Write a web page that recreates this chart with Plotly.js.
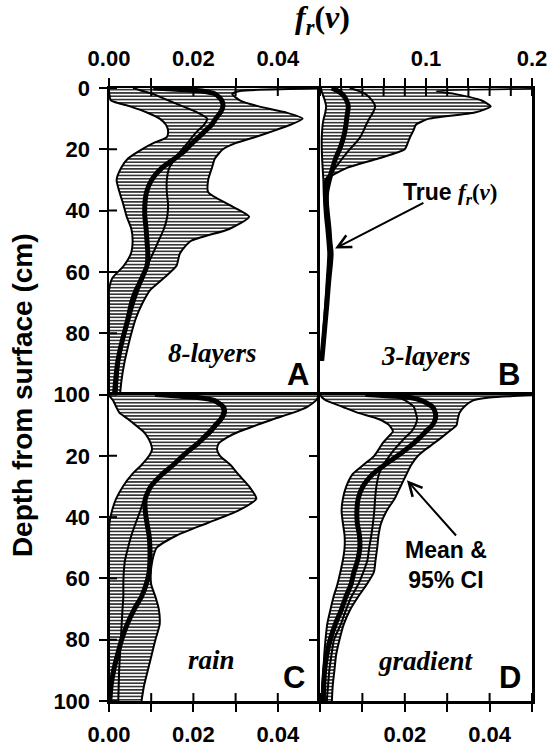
<!DOCTYPE html>
<html><head><meta charset="utf-8">
<script src="https://cdn.plot.ly/plotly-3.0.1.min.js"></script>
<style>html,body{margin:0;padding:0;background:#fff}</style>
</head><body><div id="chart" style="width:549px;height:751px"></div>
<script>
// depth grids (cm)
const depth  = [0,1,2,4,6,8,10,12,14,16,18,20,23,26,30,34,38,42,46,50,54,58,62,66,70,75,80,85,90,95,100];
const depthB = [0,1,2,4,6,8,10,12,14,16,18,20,23,26,30,34,38,42,46,50,54,58,62,66,70,75,80,85,89];

// Panel A: 8-layers
const A_lower = [0,0,0.0001,0.0004,0.005,0.009,0.012,0.0135,0.014,0.0137,0.0105,0.0078,0.0045,0.0029,0.0018,0.0025,0.0034,0.0042,0.0053,0.0056,0.0052,0.0035,0.0008,0,0,0,0,0,0,0,0];
const A_upper = [0.060,0.031,0.0292,0.031,0.0355,0.042,0.0459,0.043,0.039,0.0347,0.030,0.027,0.0251,0.0244,0.0235,0.0235,0.0283,0.0332,0.0285,0.0193,0.0168,0.016,0.013,0.0097,0.008,0.0064,0.0053,0.0044,0.0036,0.003,0.0026];
const A_mean  = [0.0057,0.008,0.0105,0.014,0.0175,0.021,0.0233,0.0225,0.021,0.0197,0.0186,0.0173,0.0157,0.0143,0.0137,0.0137,0.014,0.0138,0.013,0.0117,0.0104,0.009,0.0075,0.006,0.005,0.0042,0.0034,0.0028,0.0023,0.002,0.0018];
const A_true  = [0.0105,0.022,0.0252,0.0267,0.027,0.0264,0.0253,0.0243,0.0228,0.0213,0.0197,0.0183,0.0156,0.0126,0.0101,0.0089,0.0085,0.0085,0.0088,0.009,0.0092,0.009,0.0078,0.0066,0.0056,0.0046,0.0036,0.0027,0.002,0.0016,0.0013];

// Panel B: 3-layers
const B_lower = [0.001,0.0015,0.0025,0.0045,0.0058,0.005,0.0035,0.0025,0.002,0.0017,0.0016,0.0017,0.002,0.0025,0.0032,0.0035,0.004,0.0048,0.006,0.007,0.0078,0.0073,0.0065,0.0058,0.005,0.004,0.003,0.0019,0.001];
const B_upper = [0.3,0.11,0.128,0.152,0.161,0.146,0.103,0.0905,0.088,0.085,0.0827,0.08,0.055,0.026,0.006,0.0065,0.0065,0.0075,0.0088,0.0097,0.0108,0.01,0.0088,0.0078,0.0069,0.0056,0.0043,0.003,0.0018];
const B_mean  = [0.028,0.037,0.043,0.049,0.052,0.05,0.0465,0.0435,0.041,0.038,0.0335,0.028,0.021,0.0145,0.005,0.004,0.0045,0.0055,0.0068,0.008,0.009,0.0085,0.0075,0.0066,0.0058,0.0046,0.0034,0.0022,0.0012];
const B_true  = [0.011,0.017,0.021,0.025,0.0267,0.026,0.0252,0.0245,0.0235,0.0222,0.0205,0.0185,0.0147,0.012,0.0088,0.0063,0.0062,0.0073,0.0085,0.0093,0.0105,0.0097,0.0085,0.0075,0.0066,0.0053,0.004,0.0027,0.0016];

// Panel C: rain
const C_lower = [0,0.0004,0.001,0.0017,0.0025,0.0045,0.0063,0.0081,0.0092,0.0099,0.0102,0.0095,0.0077,0.0055,0.0033,0.0017,0.0007,0.0001,0,0,0,0,0,0,0,0,0,0,0,0,0];
const C_upper = [0.05,0.0495,0.049,0.047,0.0435,0.039,0.035,0.031,0.028,0.026,0.0256,0.0263,0.0288,0.0306,0.0332,0.0349,0.0305,0.0232,0.016,0.0113,0.0103,0.0099,0.01,0.011,0.0118,0.012,0.011,0.0101,0.0092,0.0083,0.0077];
const C_mean  = [0.013,0.0215,0.0255,0.0275,0.0277,0.027,0.0257,0.0245,0.023,0.0214,0.0196,0.0179,0.0155,0.0128,0.0099,0.0084,0.0074,0.0063,0.0053,0.0045,0.0038,0.0035,0.0034,0.0034,0.0032,0.003,0.0028,0.0026,0.0024,0.0023,0.0022];
const C_true  = [0.0109,0.021,0.025,0.027,0.0272,0.0265,0.0252,0.024,0.0225,0.021,0.0192,0.0175,0.0152,0.0126,0.0099,0.0086,0.0086,0.009,0.0095,0.0097,0.0097,0.0095,0.0088,0.0077,0.006,0.0043,0.003,0.002,0.0011,0.0005,0.0002];

// Panel D: gradient
const D_lower = [0,0.0005,0.0015,0.0053,0.009,0.0138,0.0163,0.0172,0.016,0.0147,0.0138,0.0128,0.0102,0.0077,0.0062,0.0054,0.0051,0.0054,0.0058,0.0058,0.0054,0.0048,0.0041,0.0032,0.0025,0.0017,0.0013,0.001,0.0008,0.0005,0.0004];
const D_upper = [0.055,0.04,0.036,0.034,0.0329,0.0325,0.0322,0.0305,0.0287,0.0268,0.0248,0.0231,0.0215,0.0204,0.019,0.0176,0.0157,0.0144,0.0138,0.0135,0.0131,0.0127,0.011,0.009,0.0072,0.0056,0.0046,0.0038,0.0034,0.003,0.0028];
const D_mean  = [0.0174,0.0188,0.0202,0.0221,0.0226,0.0229,0.0225,0.0216,0.0201,0.0188,0.0175,0.0164,0.0149,0.0139,0.0133,0.013,0.0128,0.0125,0.0121,0.0116,0.0112,0.0102,0.009,0.0074,0.0062,0.0049,0.0033,0.0027,0.0022,0.0019,0.0016];
const D_true  = [0.0107,0.0213,0.024,0.0265,0.0272,0.0272,0.0265,0.025,0.0236,0.022,0.0202,0.0183,0.0152,0.0124,0.0101,0.009,0.0087,0.0088,0.0093,0.0094,0.0089,0.008,0.0073,0.0061,0.0051,0.0036,0.0024,0.0016,0.0011,0.0009,0.0008];

// tick values / labels
const smallTicks = [0,0.01,0.02,0.03,0.04,0.05];
const smallLabels = ['0.00','','0.02','','0.04',''];
const smallLabelsD = ['','','0.02','','0.04',''];
const bigTicks = [0,0.02,0.04,0.06,0.08,0.1,0.12,0.14,0.16,0.18,0.2];
const bigLabels = ['','','','','','0.1','','','','','0.2'];
const depthTicks = [0,20,40,60,80,100];
const depthLabelsTop = ['0','20','40','60','80','100'];
const depthLabelsBot = ['','20','40','60','80','100'];

const SHAPE = 'spline', SMOOTH = 0.6;
function panel(xa, ya, dep, lo, up, mn, tr) {
  const bx = lo.concat(up.slice().reverse());
  const by = dep.concat(dep.slice().reverse());
  const base = {xaxis: xa, yaxis: ya, mode: 'lines', hoverinfo: 'skip', showlegend: false};
  return [
    Object.assign({}, base, {x: bx, y: by, fill: 'toself', fillcolor: 'rgba(0,0,0,0)',
      fillpattern: {shape: '-', fgcolor: '#1e1e1e', bgcolor: '#ffffff', size: 3.3, solidity: 0.45},
      line: {width: 0, shape: SHAPE, smoothing: SMOOTH}}),
    Object.assign({}, base, {x: lo, y: dep, line: {color: '#000', width: 2, shape: SHAPE, smoothing: SMOOTH}}),
    Object.assign({}, base, {x: up, y: dep, line: {color: '#000', width: 2, shape: SHAPE, smoothing: SMOOTH}}),
    Object.assign({}, base, {x: mn, y: dep, line: {color: '#000', width: 2, shape: SHAPE, smoothing: SMOOTH}}),
    Object.assign({}, base, {x: tr, y: dep, line: {color: '#000', width: 5, shape: SHAPE, smoothing: SMOOTH}})
  ];
}

const traces = [].concat(
  panel('x', 'y', depth, A_lower, A_upper, A_mean, A_true),
  panel('x2', 'y2', depthB, B_lower, B_upper, B_mean, B_true),
  panel('x3', 'y3', depth, C_lower, C_upper, C_mean, C_true),
  panel('x4', 'y4', depth, D_lower, D_upper, D_mean, D_true)
);

const dA = 0.4988;
const tickFont = {family: 'Liberation Sans, Arial, sans-serif', size: 22, color: '#000', weight: 'bold'};
const common = {showline: true, linecolor: '#000', linewidth: 2.5, showgrid: false, zeroline: false,
  tickmode: 'array', tickcolor: '#000', tickwidth: 2, ticklen: 8, tickfont: tickFont, fixedrange: true};
function ax(o) { return Object.assign({}, common, o); }

// inner halves of the crossing tick marks (the axes draw the outer halves)
const TLD = 2.6;      // tick length in depth units (~8 px)
const TLS = 0.0019;   // tick length in small-axis units (~8 px)
const shapes = [];
function xInner(xref, yref, vals, y0, y1) {
  vals.forEach(v => shapes.push({type: 'line', xref: xref, yref: yref, x0: v, x1: v, y0: y0, y1: y1,
    line: {color: '#000', width: 2}, layer: 'above'}));
}
function yInner(xref, yref, vals) {
  vals.forEach(v => shapes.push({type: 'line', xref: xref, yref: yref, y0: v, y1: v, x0: 0, x1: TLS,
    line: {color: '#000', width: 2}, layer: 'above'}));
}
xInner('x', 'y', smallTicks, 0, TLD);
xInner('x2', 'y2', bigTicks, 0, TLD);
xInner('x3', 'y3', smallTicks, 100, 100 - TLD);
xInner('x4', 'y4', smallTicks, 100, 100 - TLD);
yInner('x', 'y', depthTicks);
yInner('x3', 'y3', depthTicks);

const layout = {
  width: 549, height: 751,
  margin: {l: 109, r: 17, t: 88, b: 50, pad: 0},
  paper_bgcolor: '#fff', plot_bgcolor: 'rgba(0,0,0,0)',
  showlegend: false,
  xaxis:  ax({domain: [0, dA], anchor: 'y', side: 'top', range: [0, 0.05], tickvals: smallTicks, ticktext: smallLabels, ticks: 'outside', mirror: false, ticklabelstandoff: 3}),
  yaxis:  ax({domain: [0.5, 1], anchor: 'x', range: [100, 0], tickvals: depthTicks, ticktext: depthLabelsTop, ticks: 'outside', mirror: false, ticklabelstandoff: 4}),
  xaxis2: ax({domain: [dA, 1], anchor: 'y2', side: 'top', range: [0, 0.2], tickvals: bigTicks, ticktext: bigLabels, ticks: 'outside', mirror: false, ticklabelstandoff: 3}),
  yaxis2: ax({domain: [0.5, 1], anchor: 'x2', range: [100, 0], tickvals: [20,40,60,80], ticktext: ['','','',''], ticks: 'outside', mirror: true, showticklabels: false}),
  xaxis3: ax({domain: [0, dA], anchor: 'y3', side: 'bottom', range: [0, 0.05], tickvals: smallTicks, ticktext: smallLabels, ticks: 'outside', mirror: true, ticklabelstandoff: 4}),
  yaxis3: ax({domain: [0, 0.5], anchor: 'x3', range: [100, 0], tickvals: depthTicks, ticktext: depthLabelsBot, ticks: 'outside', mirror: false, ticklabelstandoff: 4}),
  xaxis4: ax({domain: [dA, 1], anchor: 'y4', side: 'bottom', range: [0, 0.05], tickvals: smallTicks, ticktext: smallLabelsD, ticks: 'outside', mirror: true, ticklabelstandoff: 4}),
  yaxis4: ax({domain: [0, 0.5], anchor: 'x4', range: [100, 0], tickvals: [20,40,60,80], ticktext: ['','','',''], ticks: 'outside', mirror: true, showticklabels: false}),
  shapes: shapes,
  annotations: []
};

const serif = 'Liberation Serif, Times New Roman, serif';
const sans = 'Liberation Sans, Arial, sans-serif';
const frv = '<b><i>f</i></b><sub><b><i>r</i></b></sub><b>(<i>v</i>)</b>';
const A = layout.annotations;
A.push({xref: 'paper', yref: 'paper', x: 0.5047, y: 1.112, xanchor: 'center', yanchor: 'middle', showarrow: false,
        text: frv, font: {family: serif, size: 32, color: '#000'}});
A.push({xref: 'paper', yref: 'paper', x: -0.2057, y: 0.499, xanchor: 'center', yanchor: 'middle', showarrow: false, textangle: -90,
        text: '<b>Depth from surface (cm)</b>', font: {family: sans, size: 28, color: '#000'}});
// panel names
A.push({xref: 'x', yref: 'y', x: 0.0243, y: 86.6, showarrow: false, text: '<b><i>8-layers</i></b>', font: {family: serif, size: 27, color: '#000'}});
A.push({xref: 'x2', yref: 'y2', x: 0.0996, y: 87.3, showarrow: false, text: '<b><i>3-layers</i></b>', font: {family: serif, size: 27, color: '#000'}});
A.push({xref: 'x3', yref: 'y3', x: 0.0243, y: 86.6, showarrow: false, text: '<b><i>rain</i></b>', font: {family: serif, size: 27, color: '#000'}});
A.push({xref: 'x4', yref: 'y4', x: 0.0249, y: 87, showarrow: false, text: '<b><i>gradient</i></b>', font: {family: serif, size: 27, color: '#000'}});
// panel letters
A.push({xref: 'x', yref: 'y', x: 0.0478, y: 93.5, xanchor: 'right', showarrow: false, text: '<b>A</b>', font: {family: sans, size: 31, color: '#000'}});
A.push({xref: 'x2', yref: 'y2', x: 0.1906, y: 93.5, xanchor: 'right', showarrow: false, text: '<b>B</b>', font: {family: sans, size: 31, color: '#000'}});
A.push({xref: 'x3', yref: 'y3', x: 0.047, y: 92.2, xanchor: 'right', showarrow: false, text: '<b>C</b>', font: {family: sans, size: 31, color: '#000'}});
A.push({xref: 'x4', yref: 'y4', x: 0.0479, y: 92.2, xanchor: 'right', showarrow: false, text: '<b>D</b>', font: {family: sans, size: 31, color: '#000'}});
// callouts
A.push({xref: 'x2', yref: 'y2', x: 0.1226, y: 34.5, showarrow: false,
        text: '<b>True </b><span style="font-family:Liberation Serif, Times New Roman, serif">' + frv + '</span>',
        font: {family: sans, size: 23, color: '#000'}});
A.push({xref: 'x2', yref: 'y2', x: 0.0142, y: 52.4, axref: 'x2', ayref: 'y2', ax: 0.099, ay: 37.2, text: '',
        showarrow: true, arrowhead: 5, arrowsize: 1.3, arrowwidth: 2, arrowcolor: '#000'});
A.push({xref: 'x4', yref: 'y4', x: 0.0296, y: 55.7, showarrow: false, text: '<b>Mean &amp;<br>95% CI</b>',
        font: {family: sans, size: 23, color: '#000'}});
A.push({xref: 'x4', yref: 'y4', x: 0.0205, y: 28, axref: 'x4', ayref: 'y4', ax: 0.0324, ay: 46.5, text: '',
        showarrow: true, arrowhead: 5, arrowsize: 1.3, arrowwidth: 2, arrowcolor: '#000'});

Plotly.newPlot('chart', traces, layout, {displayModeBar: false, staticPlot: true});
</script>
</body></html>
